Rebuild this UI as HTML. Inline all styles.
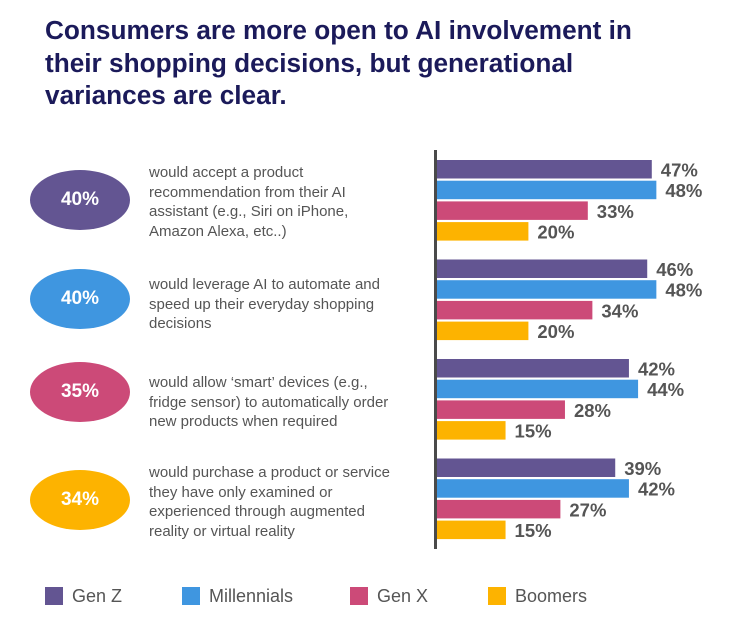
<!DOCTYPE html>
<html><head><meta charset="utf-8"><style>
body{margin:0;background:#fff;font-family:"Liberation Sans",sans-serif;}
#wrap{position:relative;width:756px;height:634px;overflow:hidden;}
.title{position:absolute;left:45px;top:14px;font-size:26.2px;font-weight:bold;color:#1b1a5a;line-height:32.5px;}
.ell{position:absolute;width:100px;height:60px;border-radius:50%;color:#fff;font-weight:bold;font-size:19px;display:flex;align-items:center;justify-content:center;}
.desc{position:absolute;left:149px;font-size:15px;line-height:19.5px;color:#555;}
.leg{position:absolute;top:586px;font-size:18px;color:#555;}
.sw{position:absolute;top:587px;width:18px;height:18px;}
</style></head><body>
<div id="wrap">
<div class="title">Consumers are more open to AI involvement in<br>their shopping decisions, but generational<br>variances are clear.</div>

<div class="ell" style="left:30px;top:170px;background:#635592">40%</div>
<div class="ell" style="left:30px;top:269px;background:#3f96e0">40%</div>
<div class="ell" style="left:30px;top:362px;background:#cc4a78">35%</div>
<div class="ell" style="left:30px;top:470px;background:#fdb300">34%</div>

<div class="desc" style="top:163px">would accept a product<br>recommendation from their AI<br>assistant (e.g., Siri on iPhone,<br>Amazon Alexa, etc..)</div>
<div class="desc" style="top:275px">would leverage AI to automate and<br>speed up their everyday shopping<br>decisions</div>
<div class="desc" style="top:373px">would allow ‘smart’ devices (e.g.,<br>fridge sensor) to automatically order<br>new products when required</div>
<div class="desc" style="top:463px">would purchase a product or service<br>they have only examined or<br>experienced through augmented<br>reality or virtual reality</div>

<svg width="756" height="634" style="position:absolute;left:0;top:0" id="chart">
<line x1="435.5" y1="150" x2="435.5" y2="549" stroke="#4a4a4a" stroke-width="3"/>
</svg>

<div class="sw" style="left:45px;background:#635592"></div>
<div class="leg" style="left:72px">Gen Z</div>
<div class="sw" style="left:182px;background:#3f96e0"></div>
<div class="leg" style="left:209px">Millennials</div>
<div class="sw" style="left:350px;background:#cc4a78"></div>
<div class="leg" style="left:377px">Gen X</div>
<div class="sw" style="left:488px;background:#fdb300"></div>
<div class="leg" style="left:515px">Boomers</div>
</div>
<script>
const categories = ["Accept recommendation","Automate shopping","Smart devices order","AR/VR purchase"];
const series = ["Gen Z","Millennials","Gen X","Boomers"];
const genZ = [47,46,42,39];
const millennials = [48,48,44,42];
const genX = [33,34,28,27];
const boomers = [20,20,15,15];
const colors = ["#635592","#3f96e0","#cc4a78","#fdb300"];
const all = [genZ, millennials, genX, boomers];
const x0 = 437, pxPer = 4.57;
function xScale(v){ return x0 + v * pxPer; }
function yGroup(i){ return 160 + i * 99.5; }
const svg = document.getElementById('chart');
const NS = "http://www.w3.org/2000/svg";
categories.forEach((c, gi) => {
  all.forEach((arr, si) => {
    const y = yGroup(gi) + si * 20.7;
    const r = document.createElementNS(NS, 'rect');
    r.setAttribute('x', x0);
    r.setAttribute('y', y);
    r.setAttribute('width', xScale(arr[gi]) - x0);
    r.setAttribute('height', 18.5);
    r.setAttribute('fill', colors[si]);
    
    
    svg.appendChild(r);
    const t = document.createElementNS(NS, 'text');
    t.setAttribute('x', xScale(arr[gi]) + 9);
    t.setAttribute('y', y + 16.5);
    t.setAttribute('font-size', '18.5');
    t.setAttribute('font-weight', 'bold');
    t.setAttribute('fill', '#555');
    t.setAttribute('font-family', 'Liberation Sans, sans-serif');
    t.textContent = arr[gi] + '%';
    
    
    svg.appendChild(t);
  });
});
</script>
</body></html>
